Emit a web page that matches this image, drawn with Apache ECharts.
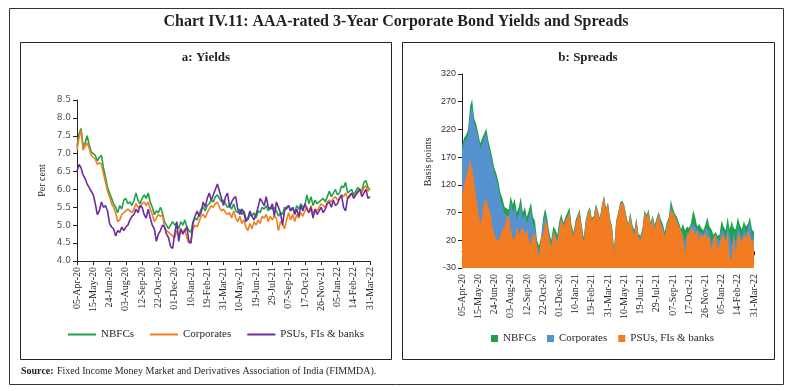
<!DOCTYPE html>
<html><head><meta charset="utf-8">
<script src="https://cdn.jsdelivr.net/npm/echarts@6/dist/echarts.min.js"></script>
<style>html,body{margin:0;padding:0;background:#fff}#c{width:792px;height:391px}</style>
</head><body><div id="c"></div>
<script>
const tickLabels = ['05-Apr-20','15-May-20','24-Jun-20','03-Aug-20','12-Sep-20','22-Oct-20','01-Dec-20','10-Jan-21','19-Feb-21','31-Mar-21','10-May-21','19-Jun-21','29-Jul-21','07-Sep-21','17-Oct-21','26-Nov-21','05-Jan-22','14-Feb-22','31-Mar-22'];
const seriesNames = ['NBFCs','Corporates','PSUs, FIs & banks'];

// a: Yields (per cent)
const yieldNBFC = [
7.2,7.55,7.7,7.2,7.3,7.5,7.25,7.05,
7.0,6.95,6.8,6.9,6.95,6.6,6.35,6.05,
5.9,5.75,5.6,5.5,5.35,5.55,5.45,5.7,
5.75,5.6,5.65,5.55,5.7,5.9,5.7,5.6,
5.75,5.85,5.75,5.9,5.65,5.5,5.3,5.4,
5.35,5.5,5.35,5.1,5.0,4.9,5.0,5.1,
5.0,5.05,4.9,5.1,5.0,5.15,4.95,4.85,
4.8,5.1,5.2,5.15,5.3,5.45,5.5,5.4,
5.55,5.6,5.7,5.65,5.8,5.85,5.75,5.65,
5.7,5.6,5.5,5.55,5.45,5.6,5.4,5.35,
5.45,5.3,5.4,5.2,5.15,5.3,5.25,5.35,
5.2,5.4,5.35,5.5,5.45,5.55,5.4,5.5,
5.45,5.5,5.4,5.25,5.35,5.3,5.5,5.45,
5.55,5.4,5.5,5.35,5.55,5.45,5.6,5.5,
5.55,5.85,5.6,5.8,5.55,5.7,5.6,5.65,
5.7,5.75,5.65,5.8,5.95,5.8,5.9,6.0,
5.85,5.9,6.1,6.05,6.2,5.9,5.95,6.0,
5.85,5.95,6.05,6.0,5.95,6.2,6.25,6.05,
6.0];
const yieldCorp = [
7.1,7.45,7.65,7.1,7.2,7.3,7.15,6.95,
6.9,6.85,6.7,6.75,6.7,6.45,6.2,5.95,
5.8,5.6,5.5,5.35,5.1,5.15,5.3,5.35,
5.4,5.45,5.4,5.35,5.45,5.6,5.5,5.5,
5.6,5.65,5.55,5.65,5.45,5.3,5.1,5.2,
5.3,5.25,5.3,4.95,4.85,4.8,4.75,4.7,
4.65,4.85,4.7,4.9,4.8,4.9,4.65,4.5,
4.55,4.9,5.0,4.95,5.1,5.25,5.3,5.2,
5.35,5.45,5.55,5.5,5.6,5.65,5.5,5.4,
5.45,5.35,5.3,5.35,5.2,5.4,5.2,5.1,
5.25,5.05,5.15,4.95,4.85,5.05,4.9,5.1,
5.0,5.15,5.05,5.25,5.2,5.3,5.1,5.25,
5.15,5.25,5.2,4.85,5.1,5.05,4.9,5.15,
5.35,5.15,5.3,5.1,5.3,5.2,5.35,5.25,
5.4,5.5,5.35,5.55,5.3,5.45,5.4,5.5,
5.6,5.55,5.5,5.65,5.7,5.65,5.75,5.8,
5.7,5.75,5.85,5.8,5.9,5.75,5.85,5.9,
5.8,5.85,5.9,6.0,5.9,6.05,6.1,5.95,
6.0];
const yieldPSU = [
6.5,6.7,6.6,6.4,6.3,6.15,6.05,5.95,
5.85,5.6,5.3,5.4,5.65,5.5,5.55,5.4,
5.05,4.95,4.9,4.7,4.85,4.8,4.95,4.85,
4.95,5.0,5.15,5.25,5.3,5.45,5.35,5.55,
5.5,5.3,5.2,5.45,5.2,5.0,4.9,4.55,
4.75,4.85,5.0,4.95,4.75,4.65,4.4,4.35,
4.75,5.1,4.55,4.9,4.75,4.85,4.95,4.55,
4.5,5.05,5.25,5.4,5.25,5.35,5.65,5.5,
5.75,5.9,5.7,5.85,6.0,6.15,5.95,5.75,
5.55,5.8,5.9,5.5,5.65,5.75,5.8,5.45,
5.3,5.45,5.35,5.1,5.2,5.4,5.25,5.15,
5.3,5.5,5.75,5.65,5.55,5.8,5.5,5.45,
5.6,5.25,5.65,5.5,5.35,5.0,5.4,5.5,
5.55,5.4,5.5,5.3,5.45,5.25,5.55,5.4,
5.6,5.45,5.35,5.5,5.2,5.45,5.3,5.4,
5.5,5.35,5.45,5.6,5.65,5.5,5.7,5.55,
5.6,5.75,5.85,5.5,5.4,5.75,5.8,5.9,
5.75,5.85,5.95,6.0,5.8,5.9,6.0,5.75,
5.8];

// b: Spreads (basis points)
const spreadNBFC = [
190,205,210,220,262,275,240,230,
213,195,205,213,222,200,185,168,
150,140,125,105,95,80,78,75,
100,85,95,70,80,98,70,80,
62,75,88,62,55,20,10,26,
60,78,60,35,20,45,40,30,
55,68,52,62,70,80,48,35,
56,66,76,48,25,56,72,80,
60,64,85,74,60,84,100,78,
88,60,45,5,55,70,88,92,
84,65,50,70,48,38,60,32,
28,42,74,66,76,52,65,48,
60,72,58,50,35,52,62,93,
78,68,62,52,40,50,38,45,
42,52,75,62,45,50,42,38,
48,62,45,40,30,35,28,30,
56,45,38,62,40,55,42,40,
62,48,40,55,45,50,62,40,
35];
const spreadCorp = [
180,198,200,210,248,262,228,220,
205,185,195,205,212,190,175,158,
140,128,112,92,82,68,65,62,
88,72,80,58,66,85,58,68,
50,62,75,48,42,12,0,20,
52,66,50,28,12,38,32,22,
48,62,48,58,64,72,42,30,
52,62,73,44,18,52,70,77,
57,62,83,72,57,82,99,76,
86,57,42,0,52,67,86,89,
82,62,47,67,44,33,57,28,
24,38,72,63,74,48,62,44,
57,70,52,44,28,48,58,80,
72,64,57,46,36,30,16,34,
36,46,50,45,40,35,34,30,
42,40,34,15,26,32,22,20,
40,35,20,45,30,10,35,15,
45,35,22,45,30,42,55,20,
30];
const spreadPSU = [
100,118,135,147,165,150,123,95,
72,50,62,93,90,80,68,45,
30,22,20,28,40,44,60,66,
40,22,24,45,30,38,44,30,
40,20,14,30,32,8,-10,25,
30,55,50,20,8,35,28,15,
40,60,44,55,62,70,40,26,
50,60,72,40,14,50,68,75,
55,60,82,70,55,80,99,75,
85,55,40,-5,50,65,85,88,
80,60,45,65,40,30,55,25,
20,35,70,60,72,45,60,40,
55,68,50,40,26,45,56,75,
70,62,55,44,38,25,-5,30,
32,44,40,30,38,20,32,26,
35,22,28,0,24,30,5,12,
26,30,18,35,-10,-15,28,-5,
32,26,18,30,24,36,28,15,
22];

const pointsPerTick = 8;
const categories = [];
for (let i = 0; i < yieldNBFC.length; i++) {
  const t = Math.floor(i / pointsPerTick);
  categories.push(i % pointsPerTick === 0 ? tickLabels[t] : tickLabels[t] + '#' + (i % pointsPerTick));
}

const G = '#1fa24a', O = '#f07f1f', P = '#6a2c9f', B = '#5592cf', O2 = '#f47c20';
const SERIF = '"Liberation Serif", "DejaVu Serif", serif';
const SANS = '"DejaVu Sans", Verdana, sans-serif';
const NARROW = '"Liberation Sans Narrow", "Liberation Sans", Arial, sans-serif';

const chart = echarts.init(document.getElementById('c'), null, {renderer: 'canvas'});

function xAxis(gridIndex) {
  return {
    type: 'category', gridIndex: gridIndex, data: categories, boundaryGap: false,
    axisLine: {lineStyle: {color: '#222', width: 1}},
    axisTick: {interval: pointsPerTick - 1, length: 4, lineStyle: {color: '#222'}},
    axisLabel: {interval: pointsPerTick - 1, rotate: 90, margin: 6, fontFamily: SERIF, fontSize: 10, color: '#231f20'},
    splitLine: {show: false}
  };
}

const option = {
  animation: false,
  backgroundColor: '#fff',
  grid: [
    {left: 77, right: 422, top: 100, bottom: 130, containLabel: false},
    {left: 462, right: 38, top: 74, bottom: 123, containLabel: false}
  ],
  xAxis: [xAxis(0), xAxis(1)],
  yAxis: [
    {type: 'value', gridIndex: 0, min: 4, max: 8.5, interval: 0.5,
     axisLine: {show: true, lineStyle: {color: '#222'}},
     axisTick: {show: true, length: 4, lineStyle: {color: '#222'}},
     axisLabel: {formatter: v => v.toFixed(1), fontFamily: SANS, fontSize: 9, color: '#555', margin: 6},
     splitLine: {show: false},
     name: 'Per cent', nameLocation: 'middle', nameGap: 30, nameRotate: 90,
     nameTextStyle: {fontFamily: SERIF, fontSize: 10, color: '#231f20'}},
    {type: 'value', gridIndex: 1, min: -30, max: 320, interval: 50,
     axisLine: {show: true, lineStyle: {color: '#222'}},
     axisTick: {show: true, length: 4, lineStyle: {color: '#222'}},
     axisLabel: {fontFamily: NARROW, fontSize: 9, color: '#333', margin: 6},
     splitLine: {show: false}}
  ],
  legend: [
    {left: 63, top: 324, itemWidth: 28, itemHeight: 2, itemGap: 16, icon: 'rect',
     textStyle: {fontFamily: SERIF, fontSize: 11, color: '#231f20'},
     selectedMode: false,
     data: [{name: seriesNames[0], itemStyle: {color: G}}, {name: seriesNames[1], itemStyle: {color: O}}, {name: seriesNames[2], itemStyle: {color: P}}]},
    {left: 486, top: 328, itemWidth: 7, itemHeight: 7, itemGap: 11, icon: 'rect',
     textStyle: {fontFamily: SERIF, fontSize: 11, color: '#231f20'},
     selectedMode: false,
     data: [{name: seriesNames[0], itemStyle: {color: G}}, {name: seriesNames[1], itemStyle: {color: B}}, {name: seriesNames[2], itemStyle: {color: O2}}]}
  ],
  series: [
    {type: 'line', name: seriesNames[0], xAxisIndex: 0, yAxisIndex: 0, data: yieldNBFC, showSymbol: false, symbol: 'none', lineStyle: {width: 1.6, color: G}, itemStyle: {color: G}},
    {type: 'line', name: seriesNames[1], xAxisIndex: 0, yAxisIndex: 0, data: yieldCorp, showSymbol: false, symbol: 'none', lineStyle: {width: 1.6, color: O}, itemStyle: {color: O}},
    {type: 'line', name: seriesNames[2], xAxisIndex: 0, yAxisIndex: 0, data: yieldPSU, showSymbol: false, symbol: 'none', lineStyle: {width: 1.6, color: P}, itemStyle: {color: P}},
    {type: 'line', name: seriesNames[0], xAxisIndex: 1, yAxisIndex: 1, data: spreadNBFC, showSymbol: false, symbol: 'none', lineStyle: {width: 0}, areaStyle: {color: G, opacity: 1, origin: 'start'}, itemStyle: {color: G}},
    {type: 'line', name: seriesNames[1], xAxisIndex: 1, yAxisIndex: 1, data: spreadCorp, showSymbol: false, symbol: 'none', lineStyle: {width: 0}, areaStyle: {color: B, opacity: 1, origin: 'start'}, itemStyle: {color: B}},
    {type: 'line', name: seriesNames[2], xAxisIndex: 1, yAxisIndex: 1, data: spreadPSU, showSymbol: false, symbol: 'none', lineStyle: {width: 0}, areaStyle: {color: O2, opacity: 1, origin: 'start'}, itemStyle: {color: O2}}
  ],
  graphic: [
    {type: 'rect', shape: {x: 9.5, y: 8.5, width: 774, height: 376}, style: {fill: 'none', stroke: '#333', lineWidth: 1}, silent: true},
    {type: 'rect', shape: {x: 20.5, y: 42.5, width: 371, height: 317}, style: {fill: 'none', stroke: '#222', lineWidth: 1}, silent: true},
    {type: 'rect', shape: {x: 402.5, y: 42.5, width: 372, height: 317}, style: {fill: 'none', stroke: '#222', lineWidth: 1}, silent: true},
    {type: 'text', left: 'center', top: 14, style: {text: 'Chart IV.11: AAA-rated 3-Year Corporate Bond Yields and Spreads', fontFamily: SERIF, fontWeight: 'bold', fontSize: 16, fill: '#231f20'}},
    {type: 'text', x: 206, y: 58, style: {text: 'a: Yields', fontFamily: SERIF, fontWeight: 'bold', fontSize: 13, fill: '#231f20', align: 'center', verticalAlign: 'middle'}},
    {type: 'text', x: 588, y: 58, style: {text: 'b: Spreads', fontFamily: SERIF, fontWeight: 'bold', fontSize: 13, fill: '#231f20', align: 'center', verticalAlign: 'middle'}},
    {type: 'text', x: 428, y: 162, rotation: Math.PI / 2, style: {text: 'Basis points', fontFamily: SERIF, fontSize: 10, fill: '#231f20', align: 'center', verticalAlign: 'middle'}},
    {type: 'text', x: 21, y: 371, style: {
      text: '{b|Source:} {n|Fixed Income Money Market and Derivatives Association of India (FIMMDA).}',
      verticalAlign: 'middle',
      rich: {b: {fontFamily: SERIF, fontWeight: 'bold', fontSize: 10, fill: '#231f20'}, n: {fontFamily: SERIF, fontSize: 10, fill: '#231f20'}}
    }}
  ]
};
chart.setOption(option);
</script>
</body></html>
